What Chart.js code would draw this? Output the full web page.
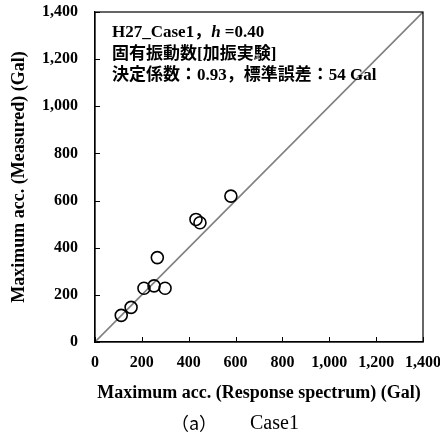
<!DOCTYPE html>
<html>
<head>
<meta charset="utf-8">
<script src="https://cdn.jsdelivr.net/npm/chart.js@4"></script>
<style>
  html, body { margin: 0; padding: 0; background: #fff; }
  #wrap { position: relative; width: 440px; height: 444px; }
</style>
</head>
<body>
<div id="wrap"><canvas id="chart" width="440" height="444"></canvas></div>
<script>
// --- DATA ---
const spectrumAcc = [112, 154, 209, 252, 299, 266, 431, 448, 580];
const measuredAcc = [113, 147, 228, 238, 228, 358, 520, 506, 619];
const axisMax = 1400;
const axisStep = 200;
const noteLines = ['固有振動数[加振実験]', '決定係数：0.93，標準誤差：54 Gal'];

const SERIF = '"Liberation Serif", "Noto Sans CJK JP", serif';

// inward tick marks + box + annotation + caption
const decorPlugin = {
    id: 'decor',
    afterDraw(chart) {
        const ctx = chart.ctx;
        const area = chart.chartArea;
        const xs = chart.scales.x, ys = chart.scales.y;
        ctx.save();
        ctx.strokeStyle = '#000';
        ctx.lineWidth = 1;
        xs.ticks.forEach(t => {
            const px = Math.round(xs.getPixelForValue(t.value)) + 0.5;
            ctx.beginPath();
            ctx.moveTo(px, area.bottom);
            ctx.lineTo(px, area.bottom - 5);
            ctx.stroke();
        });
        ys.ticks.forEach(t => {
            const py = Math.round(ys.getPixelForValue(t.value)) + 0.5;
            ctx.beginPath();
            ctx.moveTo(area.left, py);
            ctx.lineTo(area.left + 5, py);
            ctx.stroke();
        });
        ctx.lineWidth = 1.2;
        ctx.strokeRect(area.left, area.top, area.right - area.left, area.bottom - area.top);

        // annotation
        ctx.fillStyle = '#000';
        ctx.textBaseline = 'middle';
        ctx.textAlign = 'left';
        let x = area.left + 17;
        const y0 = area.top + 21;
        ctx.font = 'bold 17px ' + SERIF;
        const p1 = 'H27_Case1，';
        ctx.fillText(p1, x, y0);
        x += ctx.measureText(p1).width;
        ctx.font = 'italic bold 17px ' + SERIF;
        ctx.fillText('h', x, y0);
        x += ctx.measureText('h').width;
        ctx.font = 'bold 17px ' + SERIF;
        ctx.fillText(' =0.40', x, y0);
        noteLines.forEach((line, i) => {
            ctx.fillText(line, area.left + 17, y0 + 21.5 * (i + 1));
        });

        // caption
        ctx.textAlign = 'center';
        ctx.font = '18px "Noto Sans CJK JP", sans-serif';
        ctx.fillText('（a）', 194, 423);
        ctx.textAlign = 'left';
        ctx.font = '20px ' + SERIF;
        ctx.fillText('Case1', 250, 424);
        ctx.restore();
    }
};

const points = spectrumAcc.map((v, i) => ({ x: v, y: measuredAcc[i] }));

new Chart(document.getElementById('chart'), {
    type: 'scatter',
    data: {
        datasets: [
            {
                label: 'points',
                data: points,
                pointStyle: 'circle',
                pointRadius: 6,
                pointBorderWidth: 1.6,
                borderColor: '#000',
                backgroundColor: 'rgba(0,0,0,0)',
                order: 1
            },
            {
                label: '1:1',
                type: 'line',
                data: [{ x: 0, y: 0 }, { x: axisMax, y: axisMax }],
                borderColor: '#808080',
                borderWidth: 1.6,
                pointRadius: 0,
                order: 2
            }
        ]
    },
    options: {
        responsive: false,
        animation: false,
        layout: { padding: { top: 12, right: 17, bottom: 0, left: 0 } },
        plugins: { legend: { display: false }, tooltip: { enabled: false } },
        scales: {
            x: {
                type: 'linear',
                min: 0, max: axisMax,
                grid: { drawOnChartArea: false, drawTicks: false },
                border: { color: '#000', width: 1.2 },
                afterFit: s => { s.height = 102; s.paddingLeft = 0; s.paddingRight = 0; },
                ticks: {
                    stepSize: axisStep,
                    padding: 11,
                    color: '#000',
                    maxRotation: 0,
                    font: { family: SERIF, size: 16, weight: 'bold' },
                    callback: v => v.toLocaleString('en-US')
                },
                title: {
                    display: true,
                    text: 'Maximum acc. (Response spectrum) (Gal)',
                    color: '#000',
                    font: { family: SERIF, size: 18, weight: 'bold' },
                    padding: { top: 0, bottom: 40 }
                }
            },
            y: {
                type: 'linear',
                min: 0, max: axisMax,
                grid: { drawOnChartArea: false, drawTicks: false },
                border: { color: '#000', width: 1.2 },
                afterFit: s => { s.width = 95; s.paddingTop = 0; s.paddingBottom = 0; },
                ticks: {
                    stepSize: axisStep,
                    padding: 17,
                    color: '#000',
                    font: { family: SERIF, size: 16, weight: 'bold' },
                    callback: v => v.toLocaleString('en-US')
                },
                title: {
                    display: true,
                    text: 'Maximum acc. (Measured) (Gal)',
                    color: '#000',
                    font: { family: SERIF, size: 18, weight: 'bold' },
                    padding: { top: 9, bottom: 0 }
                }
            }
        }
    },
    plugins: [decorPlugin]
});
</script>
</body>
</html>
